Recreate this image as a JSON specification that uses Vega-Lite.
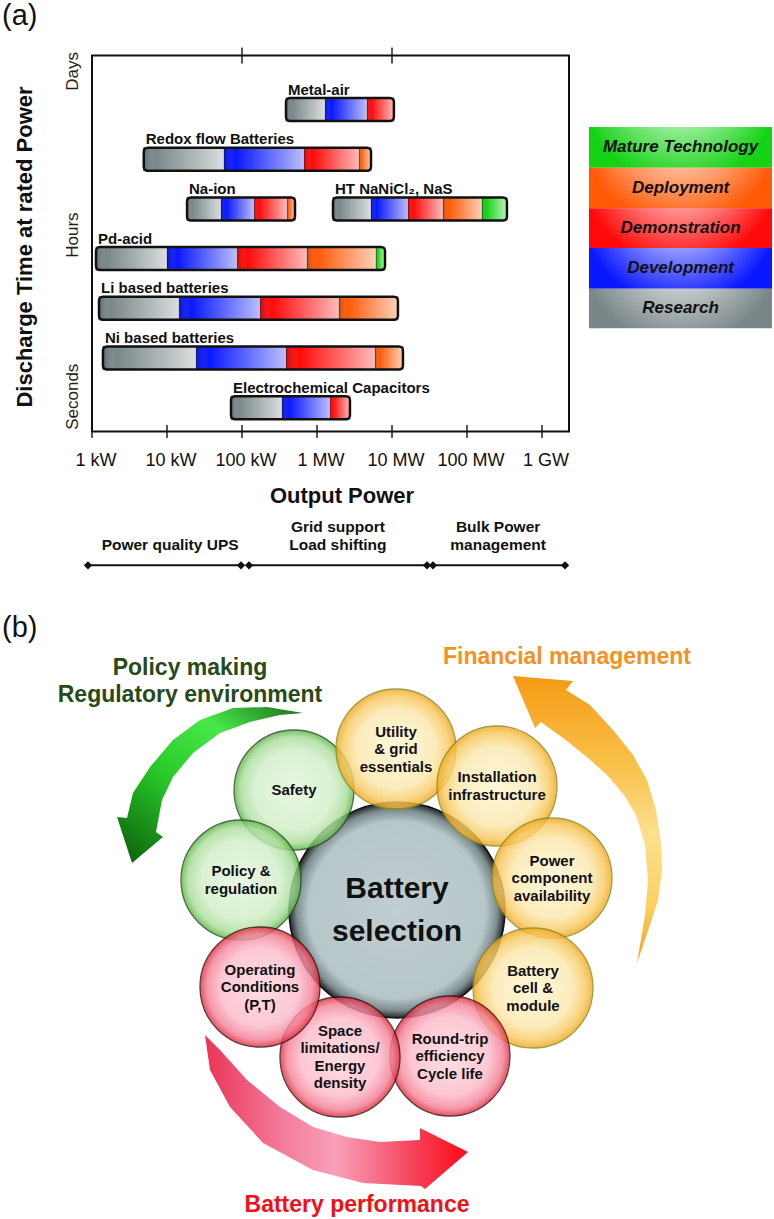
{
  "$schema": "https://vega.github.io/schema/vega-lite/v6.json",
  "width": 774,
  "height": 1219,
  "autosize": "none",
  "padding": 0,
  "background": "white",
  "config": {"view": {"stroke": null}, "font": "Liberation Sans", "text": {"font": "Liberation Sans", "color": "#111"}},
  "datasets": {
    "seg": [
      {"tech": "Metal-air", "rank": 7, "stage": "Research", "start": 386, "end": 1280},
      {"tech": "Metal-air", "rank": 7, "stage": "Development", "start": 1280, "end": 4640},
      {"tech": "Metal-air", "rank": 7, "stage": "Demonstration", "start": 4640, "end": 10600},
      {"tech": "Redox flow Batteries", "rank": 6, "stage": "Research", "start": 4.9, "end": 57.5},
      {"tech": "Redox flow Batteries", "rank": 6, "stage": "Development", "start": 57.5, "end": 671},
      {"tech": "Redox flow Batteries", "rank": 6, "stage": "Demonstration", "start": 671, "end": 3630},
      {"tech": "Redox flow Batteries", "rank": 6, "stage": "Deployment", "start": 3630, "end": 5250},
      {"tech": "Na-ion", "rank": 5, "stage": "Research", "start": 18.5, "end": 52.5},
      {"tech": "Na-ion", "rank": 5, "stage": "Development", "start": 52.5, "end": 145},
      {"tech": "Na-ion", "rank": 5, "stage": "Demonstration", "start": 145, "end": 398},
      {"tech": "Na-ion", "rank": 5, "stage": "Deployment", "start": 398, "end": 509},
      {"tech": "HT NaNiCl₂, NaS", "rank": 5, "stage": "Research", "start": 1634, "end": 5248},
      {"tech": "HT NaNiCl₂, NaS", "rank": 5, "stage": "Development", "start": 5248, "end": 16340},
      {"tech": "HT NaNiCl₂, NaS", "rank": 5, "stage": "Demonstration", "start": 16340, "end": 47860},
      {"tech": "HT NaNiCl₂, NaS", "rank": 5, "stage": "Deployment", "start": 47860, "end": 158500},
      {"tech": "HT NaNiCl₂, NaS", "rank": 5, "stage": "Mature Technology", "start": 158500, "end": 341000},
      {"tech": "Pd-acid", "rank": 4, "stage": "Research", "start": 1.13, "end": 10},
      {"tech": "Pd-acid", "rank": 4, "stage": "Development", "start": 10, "end": 86},
      {"tech": "Pd-acid", "rank": 4, "stage": "Demonstration", "start": 86, "end": 735},
      {"tech": "Pd-acid", "rank": 4, "stage": "Deployment", "start": 735, "end": 6120},
      {"tech": "Pd-acid", "rank": 4, "stage": "Mature Technology", "start": 6120, "end": 8070},
      {"tech": "Li based batteries", "rank": 3, "stage": "Research", "start": 1.24, "end": 14.5},
      {"tech": "Li based batteries", "rank": 3, "stage": "Development", "start": 14.5, "end": 174},
      {"tech": "Li based batteries", "rank": 3, "stage": "Demonstration", "start": 174, "end": 1965},
      {"tech": "Li based batteries", "rank": 3, "stage": "Deployment", "start": 1965, "end": 12000},
      {"tech": "Ni based batteries", "rank": 2, "stage": "Research", "start": 1.4, "end": 24.4},
      {"tech": "Ni based batteries", "rank": 2, "stage": "Development", "start": 24.4, "end": 386},
      {"tech": "Ni based batteries", "rank": 2, "stage": "Demonstration", "start": 386, "end": 5930},
      {"tech": "Ni based batteries", "rank": 2, "stage": "Deployment", "start": 5930, "end": 14000},
      {"tech": "Electrochemical Capacitors", "rank": 1, "stage": "Research", "start": 71.3, "end": 342},
      {"tech": "Electrochemical Capacitors", "rank": 1, "stage": "Development", "start": 342, "end": 1490},
      {"tech": "Electrochemical Capacitors", "rank": 1, "stage": "Demonstration", "start": 1490, "end": 2750}
    ],
    "xticks": [
      {"v": 1, "t": "1 kW"}, {"v": 10, "t": "10 kW"}, {"v": 100, "t": "100 kW"},
      {"v": 1000, "t": "1 MW"}, {"v": 10000, "t": "10 MW"}, {"v": 100000, "t": "100 MW"}, {"v": 1000000, "t": "1 GW"}
    ],
    "topticks": [{"v": 100}, {"v": 10000}],
    "ylabels": [{"t": "Days", "r": 7.766}, {"t": "Hours", "r": 4.473}, {"t": "Seconds", "r": 1.22}],
    "ranges": [
      {"t": "Power quality UPS", "lo": 0.884, "hi": 97, "mid": 11},
      {"t": "Grid support\nLoad shifting", "lo": 124, "hi": 29300, "mid": 1900},
      {"t": "Bulk Power\nmanagement", "lo": 35200, "hi": 2030000, "mid": 260000}
    ],
    "legend": [
      {"stage": "Mature Technology", "y1": 6.649, "y2": 5.83, "ym": 6.24},
      {"stage": "Deployment", "y1": 5.83, "y2": 5.012, "ym": 5.421},
      {"stage": "Demonstration", "y1": 5.012, "y2": 4.214, "ym": 4.613},
      {"stage": "Development", "y1": 4.214, "y2": 3.395, "ym": 3.805},
      {"stage": "Research", "y1": 3.395, "y2": 2.597, "ym": 2.996}
    ],
    "circles": [
      {"g": "center", "u": 0, "v": 0, "text": "Battery\nselection"},
      {"g": "green", "u": -1.03, "v": 1.2, "text": "Safety"},
      {"g": "yellow", "u": -0.01, "v": 1.61, "text": "Utility\n& grid\nessentials"},
      {"g": "yellow", "u": 1.0, "v": 1.24, "text": "Installation\ninfrastructure"},
      {"g": "yellow", "u": 1.55, "v": 0.32, "text": "Power\ncomponent\navailability"},
      {"g": "yellow", "u": 1.36, "v": -0.78, "text": "Battery\ncell &\nmodule"},
      {"g": "red", "u": 0.53, "v": -1.46, "text": "Round-trip\nefficiency\nCycle life"},
      {"g": "red", "u": -0.57, "v": -1.47, "text": "Space\nlimitations/\nEnergy\ndensity"},
      {"g": "red", "u": -1.37, "v": -0.77, "text": "Operating\nConditions\n(P,T)"},
      {"g": "green", "u": -1.56, "v": 0.3, "text": "Policy &\nregulation"}
    ],
    "arrows": [
      {"a": "green", "i": 1, "u": -0.94, "v": 1.97},
      {"a": "green", "i": 2, "u": -1.3, "v": 2.03},
      {"a": "green", "i": 3, "u": -1.64, "v": 2.02},
      {"a": "green", "i": 4, "u": -1.97, "v": 1.9},
      {"a": "green", "i": 5, "u": -2.24, "v": 1.7},
      {"a": "green", "i": 6, "u": -2.47, "v": 1.43},
      {"a": "green", "i": 7, "u": -2.64, "v": 1.17},
      {"a": "green", "i": 8, "u": -2.7, "v": 0.92},
      {"a": "green", "i": 9, "u": -2.8, "v": 0.93},
      {"a": "green", "i": 10, "u": -2.65, "v": 0.47},
      {"a": "green", "i": 11, "u": -2.34, "v": 0.73},
      {"a": "green", "i": 12, "u": -2.41, "v": 0.78},
      {"a": "green", "i": 13, "u": -2.35, "v": 1.1},
      {"a": "green", "i": 14, "u": -2.24, "v": 1.33},
      {"a": "green", "i": 15, "u": -2.04, "v": 1.57},
      {"a": "green", "i": 16, "u": -1.77, "v": 1.77},
      {"a": "green", "i": 17, "u": -1.47, "v": 1.88},
      {"a": "green", "i": 18, "u": -1.17, "v": 1.95},
      {"a": "orange", "i": 1, "u": 1.16, "v": 2.34},
      {"a": "orange", "i": 2, "u": 1.76, "v": 2.29},
      {"a": "orange", "i": 3, "u": 1.69, "v": 2.2},
      {"a": "orange", "i": 4, "u": 1.93, "v": 2.05},
      {"a": "orange", "i": 5, "u": 2.16, "v": 1.8},
      {"a": "orange", "i": 6, "u": 2.36, "v": 1.55},
      {"a": "orange", "i": 7, "u": 2.5, "v": 1.3},
      {"a": "orange", "i": 8, "u": 2.59, "v": 1.0},
      {"a": "orange", "i": 9, "u": 2.64, "v": 0.67},
      {"a": "orange", "i": 10, "u": 2.65, "v": 0.4},
      {"a": "orange", "i": 11, "u": 2.61, "v": 0.1},
      {"a": "orange", "i": 12, "u": 2.53, "v": -0.15},
      {"a": "orange", "i": 13, "u": 2.4, "v": -0.53},
      {"a": "orange", "i": 14, "u": 2.48, "v": -0.05},
      {"a": "orange", "i": 15, "u": 2.51, "v": 0.3},
      {"a": "orange", "i": 16, "u": 2.48, "v": 0.65},
      {"a": "orange", "i": 17, "u": 2.39, "v": 0.95},
      {"a": "orange", "i": 18, "u": 2.27, "v": 1.15},
      {"a": "orange", "i": 19, "u": 2.1, "v": 1.35},
      {"a": "orange", "i": 20, "u": 1.91, "v": 1.52},
      {"a": "orange", "i": 21, "u": 1.7, "v": 1.69},
      {"a": "orange", "i": 22, "u": 1.44, "v": 1.88},
      {"a": "orange", "i": 23, "u": 1.38, "v": 1.82},
      {"a": "red", "i": 1, "u": -1.92, "v": -1.25},
      {"a": "red", "i": 2, "u": -1.87, "v": -1.6},
      {"a": "red", "i": 3, "u": -1.67, "v": -1.97},
      {"a": "red", "i": 4, "u": -1.34, "v": -2.33},
      {"a": "red", "i": 5, "u": -0.84, "v": -2.6},
      {"a": "red", "i": 6, "u": -0.34, "v": -2.73},
      {"a": "red", "i": 7, "u": 0.24, "v": -2.76},
      {"a": "red", "i": 8, "u": 0.28, "v": -2.79},
      {"a": "red", "i": 9, "u": 0.71, "v": -2.42},
      {"a": "red", "i": 10, "u": 0.23, "v": -2.18},
      {"a": "red", "i": 11, "u": 0.23, "v": -2.3},
      {"a": "red", "i": 12, "u": -0.17, "v": -2.32},
      {"a": "red", "i": 13, "u": -0.5, "v": -2.27},
      {"a": "red", "i": 14, "u": -0.84, "v": -2.17},
      {"a": "red", "i": 15, "u": -1.17, "v": -1.97},
      {"a": "red", "i": 16, "u": -1.5, "v": -1.7},
      {"a": "red", "i": 17, "u": -1.77, "v": -1.4}
    ]
  },
  "layer": [
    {
      "layer": [
        {
          "data": {"values": [{}]},
          "mark": {"type": "rect", "fill": "transparent", "stroke": "#111", "strokeWidth": 2},
          "encoding": {
            "x": {"datum": 1, "type": "quantitative", "scale": {"type": "log", "domain": [0.05934, 1240100000], "nice": false}, "axis": null},
            "x2": {"datum": 2291000},
            "y": {"datum": 0.521, "type": "quantitative", "scale": {"domain": [-15.2275, 9.1038], "nice": false, "zero": false}, "axis": null},
            "y2": {"datum": 8.086}
          }
        },
        {
          "data": {"name": "seg"},
          "mark": {"type": "bar", "size": 23, "stroke": "#1a1a1a", "strokeWidth": 0.8},
          "encoding": {
            "x": {"field": "start", "type": "quantitative", "scale": {"type": "log", "domain": [0.05934, 1240100000], "nice": false}, "axis": null},
            "x2": {"field": "end"},
            "y": {"field": "rank", "type": "quantitative", "scale": {"domain": [-15.2275, 9.1038], "nice": false, "zero": false}, "axis": null},
            "color": {"field": "stage", "type": "nominal", "legend": null,
              "scale": {"domain": ["Research", "Development", "Demonstration", "Deployment", "Mature Technology"],
                        "range": ["#7a8789", "#0a18ff", "#ff0a0a", "#ff5a08", "#14d214"]}}
          }
        },
        {
          "data": {"name": "seg"},
          "mark": {"type": "bar", "size": 23, "strokeWidth": 0,
            "fill": {"gradient": "linear", "x1": 0, "y1": 0, "x2": 1, "y2": 0,
              "stops": [{"offset": 0, "color": "rgba(0,0,0,0.22)"}, {"offset": 0.15, "color": "rgba(255,255,255,0)"}, {"offset": 1, "color": "rgba(255,255,255,0.72)"}]}},
          "encoding": {
            "x": {"field": "start", "type": "quantitative", "scale": {"type": "log", "domain": [0.05934, 1240100000], "nice": false}, "axis": null},
            "x2": {"field": "end"},
            "y": {"field": "rank", "type": "quantitative", "scale": {"domain": [-15.2275, 9.1038], "nice": false, "zero": false}, "axis": null}
          }
        },
        {
          "data": {"name": "seg"},
          "transform": [{"aggregate": [{"op": "min", "field": "start", "as": "s"}, {"op": "max", "field": "end", "as": "e"}], "groupby": ["tech", "rank"]}],
          "mark": {"type": "bar", "size": 23, "fill": "transparent", "stroke": "#111", "strokeWidth": 2.5, "cornerRadius": 4},
          "encoding": {
            "x": {"field": "s", "type": "quantitative", "scale": {"type": "log", "domain": [0.05934, 1240100000], "nice": false}, "axis": null},
            "x2": {"field": "e"},
            "y": {"field": "rank", "type": "quantitative", "scale": {"domain": [-15.2275, 9.1038], "nice": false, "zero": false}, "axis": null}
          }
        },
        {
          "data": {"name": "seg"},
          "transform": [{"aggregate": [{"op": "min", "field": "start", "as": "s"}], "groupby": ["tech", "rank"]}],
          "mark": {"type": "text", "align": "left", "baseline": "alphabetic", "dy": -15, "dx": 2, "fontSize": 15, "fontWeight": "bold"},
          "encoding": {
            "x": {"field": "s", "type": "quantitative", "scale": {"type": "log", "domain": [0.05934, 1240100000], "nice": false}, "axis": null},
            "y": {"field": "rank", "type": "quantitative", "scale": {"domain": [-15.2275, 9.1038], "nice": false, "zero": false}, "axis": null},
            "text": {"field": "tech"}
          }
        },
        {
          "data": {"name": "xticks"},
          "mark": {"type": "tick", "orient": "vertical", "size": 13, "thickness": 2, "color": "#111"},
          "encoding": {
            "x": {"field": "v", "type": "quantitative", "scale": {"type": "log", "domain": [0.05934, 1240100000], "nice": false}, "axis": null},
            "y": {"datum": 0.521, "type": "quantitative", "scale": {"domain": [-15.2275, 9.1038], "nice": false, "zero": false}, "axis": null}
          }
        },
        {
          "data": {"name": "topticks"},
          "mark": {"type": "tick", "orient": "vertical", "size": 16, "thickness": 2, "color": "#111"},
          "encoding": {
            "x": {"field": "v", "type": "quantitative", "scale": {"type": "log", "domain": [0.05934, 1240100000], "nice": false}, "axis": null},
            "y": {"datum": 8.086, "type": "quantitative", "scale": {"domain": [-15.2275, 9.1038], "nice": false, "zero": false}, "axis": null}
          }
        },
        {
          "data": {"name": "xticks"},
          "mark": {"type": "text", "align": "center", "baseline": "middle", "dx": 4, "fontSize": 18},
          "encoding": {
            "x": {"field": "v", "type": "quantitative", "scale": {"type": "log", "domain": [0.05934, 1240100000], "nice": false}, "axis": null},
            "y": {"datum": -0.078, "type": "quantitative", "scale": {"domain": [-15.2275, 9.1038], "nice": false, "zero": false}, "axis": null},
            "text": {"field": "t"}
          }
        },
        {
          "data": {"values": [{}]},
          "mark": {"type": "text", "align": "center", "baseline": "middle", "fontSize": 22, "fontWeight": "bold", "text": "Output Power"},
          "encoding": {
            "x": {"datum": 2154, "type": "quantitative", "scale": {"type": "log", "domain": [0.05934, 1240100000], "nice": false}, "axis": null},
            "y": {"datum": -0.776, "type": "quantitative", "scale": {"domain": [-15.2275, 9.1038], "nice": false, "zero": false}, "axis": null}
          }
        },
        {
          "data": {"values": [{}]},
          "mark": {"type": "text", "align": "center", "baseline": "middle", "angle": 270, "fontSize": 22, "fontWeight": "bold", "text": "Discharge Time at rated Power"},
          "encoding": {
            "x": {"datum": 0.1278, "type": "quantitative", "scale": {"type": "log", "domain": [0.05934, 1240100000], "nice": false}, "axis": null},
            "y": {"datum": 4.234, "type": "quantitative", "scale": {"domain": [-15.2275, 9.1038], "nice": false, "zero": false}, "axis": null}
          }
        },
        {
          "data": {"name": "ylabels"},
          "mark": {"type": "text", "align": "center", "baseline": "middle", "angle": 270, "fontSize": 17, "color": "#222"},
          "encoding": {
            "x": {"datum": 0.558, "type": "quantitative", "scale": {"type": "log", "domain": [0.05934, 1240100000], "nice": false}, "axis": null},
            "y": {"field": "r", "type": "quantitative", "scale": {"domain": [-15.2275, 9.1038], "nice": false, "zero": false}, "axis": null},
            "text": {"field": "t"}
          }
        },
        {
          "data": {"name": "ranges"},
          "mark": {"type": "rule", "strokeWidth": 2, "color": "#111"},
          "encoding": {
            "x": {"field": "lo", "type": "quantitative", "scale": {"type": "log", "domain": [0.05934, 1240100000], "nice": false}, "axis": null},
            "x2": {"field": "hi"},
            "y": {"datum": -2.1737, "type": "quantitative", "scale": {"domain": [-15.2275, 9.1038], "nice": false, "zero": false}, "axis": null}
          }
        },
        {
          "data": {"name": "ranges"},
          "transform": [{"fold": ["lo", "hi"], "as": ["k", "val"]}],
          "mark": {"type": "point", "shape": "diamond", "filled": true, "size": 70, "color": "#111", "opacity": 1},
          "encoding": {
            "x": {"field": "val", "type": "quantitative", "scale": {"type": "log", "domain": [0.05934, 1240100000], "nice": false}, "axis": null},
            "y": {"datum": -2.1737, "type": "quantitative", "scale": {"domain": [-15.2275, 9.1038], "nice": false, "zero": false}, "axis": null}
          }
        },
        {
          "data": {"name": "ranges"},
          "transform": [{"filter": "indexof(datum.t, '\\n') < 0"}],
          "mark": {"type": "text", "align": "center", "baseline": "bottom", "fontSize": 15.5, "fontWeight": "bold"},
          "encoding": {
            "x": {"field": "mid", "type": "quantitative", "scale": {"type": "log", "domain": [0.05934, 1240100000], "nice": false}, "axis": null},
            "y": {"datum": -1.934, "type": "quantitative", "scale": {"domain": [-15.2275, 9.1038], "nice": false, "zero": false}, "axis": null},
            "text": {"field": "t"}
          }
        },
        {
          "data": {"name": "ranges"},
          "transform": [{"filter": "indexof(datum.t, '\\n') >= 0"}],
          "mark": {"type": "text", "align": "center", "baseline": "bottom", "dy": -18, "lineBreak": "\n", "lineHeight": 18, "fontSize": 15.5, "fontWeight": "bold"},
          "encoding": {
            "x": {"field": "mid", "type": "quantitative", "scale": {"type": "log", "domain": [0.05934, 1240100000], "nice": false}, "axis": null},
            "y": {"datum": -1.934, "type": "quantitative", "scale": {"domain": [-15.2275, 9.1038], "nice": false, "zero": false}, "axis": null},
            "text": {"field": "t"}
          }
        },
        {
          "data": {"name": "legend"},
          "mark": {"type": "rect", "strokeWidth": 0},
          "encoding": {
            "x": {"datum": 4230000, "type": "quantitative", "scale": {"type": "log", "domain": [0.05934, 1240100000], "nice": false}, "axis": null},
            "x2": {"datum": 1166000000},
            "y": {"field": "y1", "type": "quantitative", "scale": {"domain": [-15.2275, 9.1038], "nice": false, "zero": false}, "axis": null},
            "y2": {"field": "y2"},
            "color": {"field": "stage", "type": "nominal", "legend": null,
              "scale": {"domain": ["Research", "Development", "Demonstration", "Deployment", "Mature Technology"],
                        "range": ["#7a8789", "#0a18ff", "#ff0a0a", "#ff5a08", "#14d214"]}}
          }
        },
        {
          "data": {"name": "legend"},
          "mark": {"type": "rect", "strokeWidth": 0,
            "fill": {"gradient": "radial", "x1": 0.5, "y1": 0.15, "r1": 0, "x2": 0.5, "y2": 0.15, "r2": 0.55,
              "stops": [{"offset": 0, "color": "rgba(255,255,255,0.95)"}, {"offset": 0.3, "color": "rgba(255,255,255,0.7)"}, {"offset": 1, "color": "rgba(255,255,255,0)"}]}},
          "encoding": {
            "x": {"datum": 4230000, "type": "quantitative", "scale": {"type": "log", "domain": [0.05934, 1240100000], "nice": false}, "axis": null},
            "x2": {"datum": 1166000000},
            "y": {"field": "y1", "type": "quantitative", "scale": {"domain": [-15.2275, 9.1038], "nice": false, "zero": false}, "axis": null},
            "y2": {"field": "y2"}
          }
        },
        {
          "data": {"name": "legend"},
          "mark": {"type": "text", "align": "center", "baseline": "middle", "fontSize": 17, "fontWeight": "bold", "fontStyle": "italic", "color": "#111"},
          "encoding": {
            "x": {"datum": 70400000, "type": "quantitative", "scale": {"type": "log", "domain": [0.05934, 1240100000], "nice": false}, "axis": null},
            "y": {"field": "ym", "type": "quantitative", "scale": {"domain": [-15.2275, 9.1038], "nice": false, "zero": false}, "axis": null},
            "text": {"field": "stage"}
          }
        }
      ]
    },
    {
      "layer": [
        {
          "data": {"name": "arrows"},
          "transform": [{"filter": "datum.a == 'green'"}],
          "mark": {"type": "line", "interpolate": "linear-closed", "filled": true, "strokeWidth": 0,
            "fill": {"gradient": "linear", "x1": 1, "y1": 0, "x2": 0, "y2": 1,
              "stops": [{"offset": 0, "color": "#1c6e1c"}, {"offset": 0.3, "color": "#48e848"}, {"offset": 0.6, "color": "#28c828"}, {"offset": 1, "color": "#0a5a0a"}]}},
          "encoding": {
            "x": {"field": "u", "type": "quantitative", "scale": {"domain": [-3.97, 3.77], "nice": false, "zero": false}, "axis": null},
            "y": {"field": "v", "type": "quantitative", "scale": {"domain": [-3.09, 9.1], "nice": false, "zero": false}, "axis": null},
            "order": {"field": "i", "type": "quantitative"}
          }
        },
        {
          "data": {"name": "arrows"},
          "transform": [{"filter": "datum.a == 'orange'"}],
          "mark": {"type": "line", "interpolate": "linear-closed", "filled": true, "strokeWidth": 0,
            "fill": {"gradient": "linear", "x1": 0, "y1": 0, "x2": 0, "y2": 1,
              "stops": [{"offset": 0, "color": "#f59a14"}, {"offset": 0.3, "color": "#f9c048"}, {"offset": 0.55, "color": "#fde08e"}, {"offset": 0.8, "color": "#fbd060"}, {"offset": 1, "color": "#f5a020"}]}},
          "encoding": {
            "x": {"field": "u", "type": "quantitative", "scale": {"domain": [-3.97, 3.77], "nice": false, "zero": false}, "axis": null},
            "y": {"field": "v", "type": "quantitative", "scale": {"domain": [-3.09, 9.1], "nice": false, "zero": false}, "axis": null},
            "order": {"field": "i", "type": "quantitative"}
          }
        },
        {
          "data": {"name": "arrows"},
          "transform": [{"filter": "datum.a == 'red'"}],
          "mark": {"type": "line", "interpolate": "linear-closed", "filled": true, "strokeWidth": 0,
            "fill": {"gradient": "linear", "x1": 0, "y1": 0, "x2": 1, "y2": 0,
              "stops": [{"offset": 0, "color": "#ea3456"}, {"offset": 0.3, "color": "#f47c9c"}, {"offset": 0.5, "color": "#f8a0b8"}, {"offset": 0.8, "color": "#f6405a"}, {"offset": 1, "color": "#ff0a14"}]}},
          "encoding": {
            "x": {"field": "u", "type": "quantitative", "scale": {"domain": [-3.97, 3.77], "nice": false, "zero": false}, "axis": null},
            "y": {"field": "v", "type": "quantitative", "scale": {"domain": [-3.09, 9.1], "nice": false, "zero": false}, "axis": null},
            "order": {"field": "i", "type": "quantitative"}
          }
        },
        {
          "data": {"name": "circles"},
          "transform": [{"filter": "datum.g == 'center'"}],
          "mark": {"type": "point", "shape": "circle", "filled": true, "size": 46656, "opacity": 1, "stroke": "#111", "strokeWidth": 1.5,
            "fill": {"gradient": "radial", "x1": 0.5, "y1": 0.5, "r1": 0, "x2": 0.5, "y2": 0.5, "r2": 0.5,
              "stops": [{"offset": 0, "color": "#c0ced1"}, {"offset": 0.82, "color": "#b7c6c9"}, {"offset": 0.93, "color": "#7c8b8e"}, {"offset": 1, "color": "#1e2628"}]}},
          "encoding": {
            "x": {"field": "u", "type": "quantitative", "scale": {"domain": [-3.97, 3.77], "nice": false, "zero": false}, "axis": null},
            "y": {"field": "v", "type": "quantitative", "scale": {"domain": [-3.09, 9.1], "nice": false, "zero": false}, "axis": null}
          }
        },
        {
          "data": {"name": "circles"},
          "transform": [{"filter": "datum.g == 'green'"}],
          "mark": {"type": "point", "shape": "circle", "filled": true, "size": 14400, "opacity": 0.82, "stroke": "#2d4a20", "strokeWidth": 1.3,
            "fill": {"gradient": "radial", "x1": 0.5, "y1": 0.5, "r1": 0, "x2": 0.5, "y2": 0.5, "r2": 0.5,
              "stops": [{"offset": 0, "color": "#e4f6de"}, {"offset": 0.65, "color": "#d3efc9"}, {"offset": 0.88, "color": "#abdd9b"}, {"offset": 1, "color": "#5cb848"}]}},
          "encoding": {
            "x": {"field": "u", "type": "quantitative", "scale": {"domain": [-3.97, 3.77], "nice": false, "zero": false}, "axis": null},
            "y": {"field": "v", "type": "quantitative", "scale": {"domain": [-3.09, 9.1], "nice": false, "zero": false}, "axis": null}
          }
        },
        {
          "data": {"name": "circles"},
          "transform": [{"filter": "datum.g == 'yellow'"}],
          "mark": {"type": "point", "shape": "circle", "filled": true, "size": 14400, "opacity": 0.82, "stroke": "#8c8a1a", "strokeWidth": 1.3,
            "fill": {"gradient": "radial", "x1": 0.5, "y1": 0.5, "r1": 0, "x2": 0.5, "y2": 0.5, "r2": 0.5,
              "stops": [{"offset": 0, "color": "#fef5d2"}, {"offset": 0.65, "color": "#fce9b0"}, {"offset": 0.88, "color": "#f8ca62"}, {"offset": 1, "color": "#f0a820"}]}},
          "encoding": {
            "x": {"field": "u", "type": "quantitative", "scale": {"domain": [-3.97, 3.77], "nice": false, "zero": false}, "axis": null},
            "y": {"field": "v", "type": "quantitative", "scale": {"domain": [-3.09, 9.1], "nice": false, "zero": false}, "axis": null}
          }
        },
        {
          "data": {"name": "circles"},
          "transform": [{"filter": "datum.g == 'red'"}],
          "mark": {"type": "point", "shape": "circle", "filled": true, "size": 14400, "opacity": 0.82, "stroke": "#3a1010", "strokeWidth": 1.3,
            "fill": {"gradient": "radial", "x1": 0.5, "y1": 0.5, "r1": 0, "x2": 0.5, "y2": 0.5, "r2": 0.5,
              "stops": [{"offset": 0, "color": "#ffd6de"}, {"offset": 0.65, "color": "#fcbccb"}, {"offset": 0.88, "color": "#f38298"}, {"offset": 1, "color": "#e03040"}]}},
          "encoding": {
            "x": {"field": "u", "type": "quantitative", "scale": {"domain": [-3.97, 3.77], "nice": false, "zero": false}, "axis": null},
            "y": {"field": "v", "type": "quantitative", "scale": {"domain": [-3.09, 9.1], "nice": false, "zero": false}, "axis": null}
          }
        },
        {
          "data": {"name": "circles"},
          "transform": [{"filter": "datum.g != 'center' && length(split(datum.text, '\\n')) == 1"}],
          "mark": {"type": "text", "align": "center", "baseline": "middle", "fontSize": 15, "fontWeight": "bold", "color": "#111"},
          "encoding": {
            "x": {"field": "u", "type": "quantitative", "scale": {"domain": [-3.97, 3.77], "nice": false, "zero": false}, "axis": null},
            "y": {"field": "v", "type": "quantitative", "scale": {"domain": [-3.09, 9.1], "nice": false, "zero": false}, "axis": null},
            "text": {"field": "text"}
          }
        },
        {
          "data": {"name": "circles"},
          "transform": [{"filter": "datum.g != 'center' && length(split(datum.text, '\\n')) == 2"}],
          "mark": {"type": "text", "align": "center", "baseline": "middle", "dy": -8.75, "lineBreak": "\n", "lineHeight": 17.5, "fontSize": 15, "fontWeight": "bold", "color": "#111"},
          "encoding": {
            "x": {"field": "u", "type": "quantitative", "scale": {"domain": [-3.97, 3.77], "nice": false, "zero": false}, "axis": null},
            "y": {"field": "v", "type": "quantitative", "scale": {"domain": [-3.09, 9.1], "nice": false, "zero": false}, "axis": null},
            "text": {"field": "text"}
          }
        },
        {
          "data": {"name": "circles"},
          "transform": [{"filter": "datum.g != 'center' && length(split(datum.text, '\\n')) == 3"}],
          "mark": {"type": "text", "align": "center", "baseline": "middle", "dy": -17.5, "lineBreak": "\n", "lineHeight": 17.5, "fontSize": 15, "fontWeight": "bold", "color": "#111"},
          "encoding": {
            "x": {"field": "u", "type": "quantitative", "scale": {"domain": [-3.97, 3.77], "nice": false, "zero": false}, "axis": null},
            "y": {"field": "v", "type": "quantitative", "scale": {"domain": [-3.09, 9.1], "nice": false, "zero": false}, "axis": null},
            "text": {"field": "text"}
          }
        },
        {
          "data": {"name": "circles"},
          "transform": [{"filter": "datum.g != 'center' && length(split(datum.text, '\\n')) == 4"}],
          "mark": {"type": "text", "align": "center", "baseline": "middle", "dy": -26.25, "lineBreak": "\n", "lineHeight": 17.5, "fontSize": 15, "fontWeight": "bold", "color": "#111"},
          "encoding": {
            "x": {"field": "u", "type": "quantitative", "scale": {"domain": [-3.97, 3.77], "nice": false, "zero": false}, "axis": null},
            "y": {"field": "v", "type": "quantitative", "scale": {"domain": [-3.09, 9.1], "nice": false, "zero": false}, "axis": null},
            "text": {"field": "text"}
          }
        },
        {
          "data": {"name": "circles"},
          "transform": [{"filter": "datum.g == 'center'"}],
          "mark": {"type": "text", "align": "center", "baseline": "middle", "dy": -21.5, "lineBreak": "\n", "lineHeight": 43, "fontSize": 30, "fontWeight": "bold", "color": "#111"},
          "encoding": {
            "x": {"field": "u", "type": "quantitative", "scale": {"domain": [-3.97, 3.77], "nice": false, "zero": false}, "axis": null},
            "y": {"field": "v", "type": "quantitative", "scale": {"domain": [-3.09, 9.1], "nice": false, "zero": false}, "axis": null},
            "text": {"field": "text"}
          }
        },
        {
          "data": {"values": [{}]},
          "mark": {"type": "text", "align": "center", "baseline": "middle", "dy": -13.5, "lineBreak": "\n", "lineHeight": 27, "fontSize": 23, "fontWeight": "bold", "color": "#284a18", "text": "Policy making\nRegulatory environment"},
          "encoding": {
            "x": {"datum": -2.07, "type": "quantitative", "scale": {"domain": [-3.97, 3.77], "nice": false, "zero": false}, "axis": null},
            "y": {"datum": 2.285, "type": "quantitative", "scale": {"domain": [-3.09, 9.1], "nice": false, "zero": false}, "axis": null}
          }
        },
        {
          "data": {"values": [{}]},
          "mark": {"type": "text", "align": "center", "baseline": "middle", "fontSize": 23, "fontWeight": "bold", "color": "#f39123", "text": "Financial management"},
          "encoding": {
            "x": {"datum": 1.7, "type": "quantitative", "scale": {"domain": [-3.97, 3.77], "nice": false, "zero": false}, "axis": null},
            "y": {"datum": 2.53, "type": "quantitative", "scale": {"domain": [-3.09, 9.1], "nice": false, "zero": false}, "axis": null}
          }
        },
        {
          "data": {"values": [{}]},
          "mark": {"type": "text", "align": "center", "baseline": "middle", "fontSize": 23, "fontWeight": "bold", "color": "#f01018", "text": "Battery performance"},
          "encoding": {
            "x": {"datum": -0.4, "type": "quantitative", "scale": {"domain": [-3.97, 3.77], "nice": false, "zero": false}, "axis": null},
            "y": {"datum": -2.95, "type": "quantitative", "scale": {"domain": [-3.09, 9.1], "nice": false, "zero": false}, "axis": null}
          }
        },
        {
          "data": {"values": [{"t": "(a)", "v": 8.94}, {"t": "(b)", "v": 2.82}]},
          "mark": {"type": "text", "align": "left", "baseline": "middle", "fontSize": 29, "color": "#111"},
          "encoding": {
            "x": {"datum": -3.95, "type": "quantitative", "scale": {"domain": [-3.97, 3.77], "nice": false, "zero": false}, "axis": null},
            "y": {"field": "v", "type": "quantitative", "scale": {"domain": [-3.09, 9.1], "nice": false, "zero": false}, "axis": null},
            "text": {"field": "t"}
          }
        }
      ]
    }
  ],
  "resolve": {"scale": {"x": "independent", "y": "independent", "color": "independent"}}
}
